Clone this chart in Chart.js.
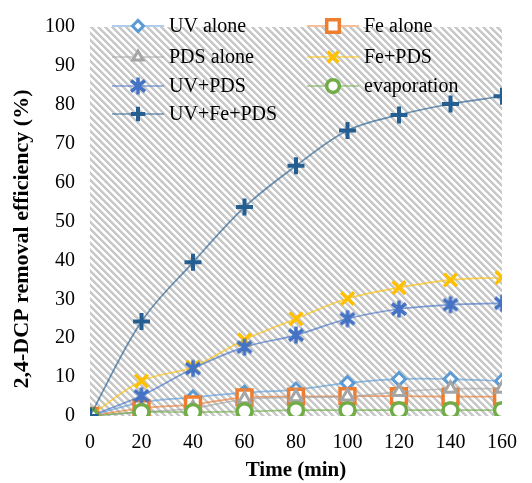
<!DOCTYPE html>
<html>
<head>
<meta charset="utf-8">
<script src="https://cdn.jsdelivr.net/npm/chart.js@4/dist/chart.umd.min.js"></script>
<style>
  html, body { margin: 0; padding: 0; background: #ffffff; }
  #wrap { width: 532px; height: 483px; }
</style>
</head>
<body>
<div id="wrap"><canvas id="chart" width="532" height="483"></canvas></div>
<script>
// Sampling times (min)
const times = [0, 20, 40, 60, 80, 100, 120, 140, 160];

// 2,4-DCP removal efficiency (%) for each treatment
const uvAlone     = [0, 3.5, 4.8, 6.0, 6.8, 8.5, 9.5, 9.5, 9.0];
const feAlone     = [0, 2.0, 3.0, 4.8, 5.0, 5.1, 5.1, 5.0, 5.0];
const pdsAlone    = [0, 1.0, 2.0, 4.3, 4.8, 5.0, 6.2, 7.0, 7.0];
const fePds       = [0, 9.0, 12.6, 19.6, 25.0, 30.2, 33.0, 35.0, 35.6];
const uvPds       = [0, 5.2, 12.2, 17.7, 20.8, 25.0, 27.5, 28.6, 29.0];
const evaporation = [0, 1.0, 1.0, 1.2, 1.5, 1.5, 1.5, 1.5, 1.5];
const uvFePds     = [0, 24.3, 39.5, 53.7, 64.3, 73.4, 77.4, 80.2, 82.2];

const seriesNames = ['UV alone', 'Fe alone', 'PDS alone', 'Fe+PDS', 'UV+PDS', 'evaporation', 'UV+Fe+PDS'];
const yTicks = [0, 10, 20, 30, 40, 50, 60, 70, 80, 90, 100];
const xTicks = times;

const SERIF = "'Liberation Serif', 'Times New Roman', serif";

function pts(values) {
  return values.map((v, i) => ({ x: times[i], y: v }));
}

function rgba(hex, a) {
  const n = parseInt(hex.slice(1), 16);
  return `rgba(${(n >> 16) & 255},${(n >> 8) & 255},${n & 255},${a})`;
}

// Hatched plot-area fill: grey downward diagonal stripes on white
function makeHatch(ctx) {
  const P = 7;
  const tile = document.createElement('canvas');
  tile.width = P; tile.height = P;
  const t = tile.getContext('2d');
  t.fillStyle = '#ffffff';
  t.fillRect(0, 0, P, P);
  for (let y = 0; y < P; y++) {
    for (let x = 0; x < P; x++) {
      const d = ((x - y) % P + P) % P;
      if (d < 3) { t.fillStyle = '#c8c8c8'; t.fillRect(x, y, 1, 1); }
      else if (d === 3) { t.fillStyle = '#e4e4e4'; t.fillRect(x, y, 1, 1); }
    }
  }
  return ctx.createPattern(tile, 'repeat');
}

// Asterisk marker: an X with a vertical bar through it
function makeAsterisk(color) {
  const c = document.createElement('canvas');
  c.width = 20; c.height = 20;
  const g = c.getContext('2d');
  g.strokeStyle = color;
  g.lineWidth = 3.5;
  g.beginPath();
  g.moveTo(10, 1.5); g.lineTo(10, 18.5);
  g.moveTo(3, 4.5); g.lineTo(17, 15.5);
  g.moveTo(3, 15.5); g.lineTo(17, 4.5);
  g.stroke();
  return c;
}

function series(label, values, color, style, radius, bw, order) {
  return {
    label,
    data: pts(values),
    borderColor: rgba(color, 0.65),
    borderWidth: 1.7,
    tension: 0.35,
    pointStyle: style,
    pointRadius: radius,
    pointHoverRadius: radius,
    pointBorderWidth: bw,
    pointBorderColor: color,
    pointBackgroundColor: '#ffffff',
    markerColor: color,
    order
  };
}

const datasets = [
  series(seriesNames[0], uvAlone,     '#5B9BD5', 'rectRot',  6.5, 3,   7),
  series(seriesNames[1], feAlone,     '#ED7D31', 'rect',    10.5, 3.5, 6),
  series(seriesNames[2], pdsAlone,    '#A5A5A5', 'triangle', 7,   3,   5),
  series(seriesNames[3], fePds,       '#FFC000', 'crossRot', 9,   3.5, 4),
  series(seriesNames[4], uvPds,       '#4472C4', makeAsterisk('#4472C4'), 8.5, 3.5, 3),
  series(seriesNames[5], evaporation, '#70AD47', 'circle',   7.5, 3.5, 2),
  series(seriesNames[6], uvFePds,     '#255E91', 'cross',    8.5, 4,   1)
];

// Legend positions inside the plot: two columns, four rows
const legendSlots = [
  { x: 112, y: 26 }, { x: 307, y: 26 },
  { x: 112, y: 57 }, { x: 307, y: 57 },
  { x: 112, y: 86 }, { x: 307, y: 86 },
  { x: 112, y: 114 }
];

const plotBackground = {
  id: 'plotBackground',
  beforeDraw(chart) {
    const { ctx, chartArea: a } = chart;
    ctx.save();
    ctx.fillStyle = makeHatch(ctx);
    ctx.fillRect(a.left, a.top, a.right - a.left, a.bottom - a.top);
    ctx.restore();
  }
};

const insideLegend = {
  id: 'insideLegend',
  afterDraw(chart) {
    const { ctx } = chart;
    ctx.save();
    chart.data.datasets.forEach((ds, i) => {
      const s = legendSlots[i];
      const len = 52;
      ctx.strokeStyle = ds.borderColor;
      ctx.lineWidth = 1.7;
      ctx.beginPath();
      ctx.moveTo(s.x, s.y);
      ctx.lineTo(s.x + len, s.y);
      ctx.stroke();
      ctx.fillStyle = ds.pointBackgroundColor;
      ctx.strokeStyle = ds.markerColor;
      ctx.lineWidth = ds.pointBorderWidth;
      Chart.helpers.drawPoint(ctx, {
        pointStyle: ds.pointStyle,
        radius: ds.pointRadius * 0.85,
        rotation: 0,
        borderWidth: ds.pointBorderWidth
      }, s.x + len / 2, s.y);
      ctx.fillStyle = '#000000';
      ctx.font = `20px ${SERIF}`;
      ctx.textAlign = 'left';
      ctx.textBaseline = 'middle';
      ctx.fillText(ds.label, s.x + len + 5, s.y + 1);
    });
    ctx.restore();
  }
};

const yTitle = {
  id: 'yTitle',
  afterDraw(chart) {
    const { ctx } = chart;
    ctx.save();
    ctx.translate(22, 239);
    ctx.rotate(-Math.PI / 2);
    ctx.fillStyle = '#000000';
    ctx.font = `bold 22px ${SERIF}`;
    ctx.textAlign = 'center';
    ctx.textBaseline = 'middle';
    ctx.fillText('2,4-DCP removal efficiency (%)', 0, 0);
    ctx.restore();
  }
};

new Chart(document.getElementById('chart'), {
  type: 'line',
  data: { datasets },
  plugins: [plotBackground, insideLegend, yTitle],
  options: {
    responsive: false,
    animation: false,
    devicePixelRatio: 1,
    layout: { padding: { top: 25, right: 17, bottom: 0, left: 0 } },
    plugins: {
      legend: { display: false },
      tooltip: { enabled: false }
    },
    scales: {
      x: {
        type: 'linear',
        min: 0,
        max: 160,
        afterBuildTicks(scale) { scale.ticks = xTicks.map(v => ({ value: v })); },
        afterFit(scale) { scale.height = 67; },
        grid: { display: false, drawTicks: false },
        border: { display: false },
        ticks: { padding: 15, color: '#000000', font: { family: SERIF, size: 20 } },
        title: {
          display: true,
          text: 'Time (min)',
          color: '#000000',
          font: { family: SERIF, size: 21, weight: 'bold' },
          padding: { top: 0, bottom: 0 }
        }
      },
      y: {
        type: 'linear',
        min: 0,
        max: 100,
        afterBuildTicks(scale) { scale.ticks = yTicks.map(v => ({ value: v })); },
        afterFit(scale) { scale.width = 90; },
        grid: { display: false, drawTicks: false },
        border: { display: false },
        ticks: { padding: 15, color: '#000000', font: { family: SERIF, size: 20 } }
      }
    }
  }
});
</script>
</body>
</html>
